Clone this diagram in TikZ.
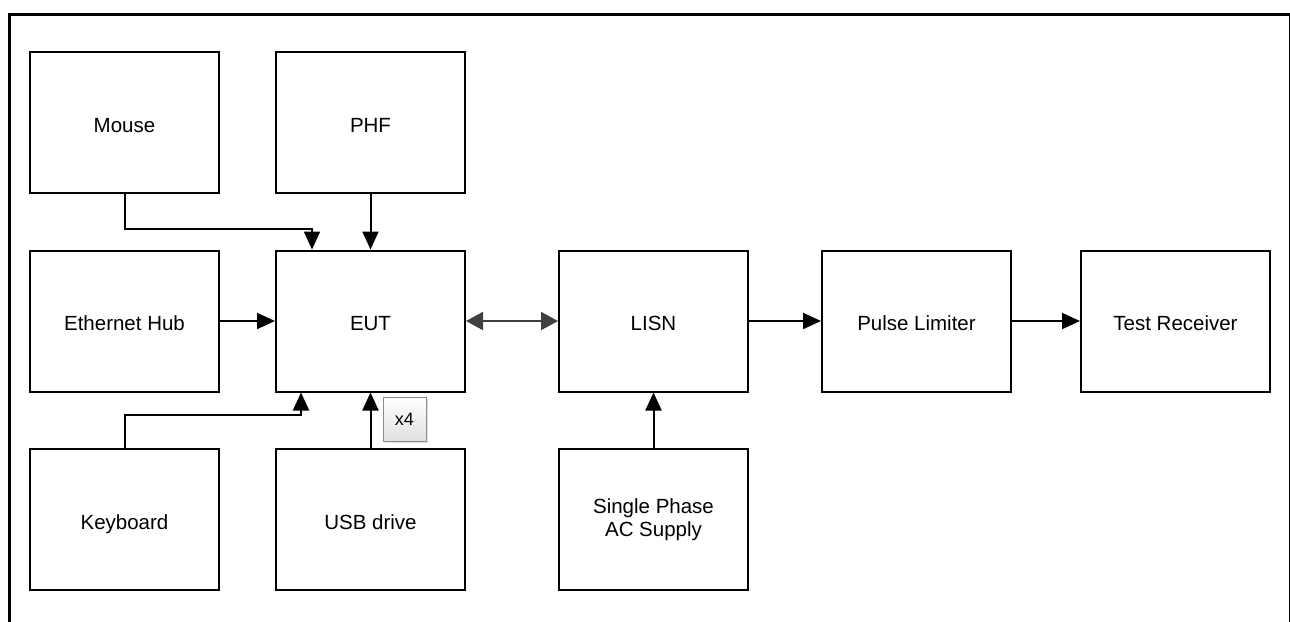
\documentclass[tikz,border=0pt]{standalone}
\usepackage{fontspec}
\setmainfont{Liberation Sans}
\usetikzlibrary{arrows.meta,shadows}

\begin{document}
\begin{tikzpicture}[x=1pt,y=-1pt,
	blk/.style={draw, line width=2pt, minimum width=189pt, minimum height=141pt, align=center, text height=19pt, text depth=0pt, font=\fontsize{20.5}{23.5}\selectfont},
	conn/.style={line width=2pt, -{Triangle[length=18pt,width=16pt]}},
	both/.style={line width=2pt, draw=black!75, {Triangle[length=17pt,width=18pt]}-{Triangle[length=17pt,width=18pt]}},
	tag/.style={draw=black!45, line width=0.8pt, top color=white, bottom color=black!12, minimum width=43pt, minimum height=44pt, font=\fontsize{18}{20}\selectfont, drop shadow={shadow xshift=2pt, shadow yshift=-2pt, fill=black!25}}]
	\useasboundingbox (0,0) rectangle (1290,621);
	% outer frame
	\draw[line width=3pt] (9,625) -- (9,14) -- (1290,14) -- (1290,625);

	% Top row
	\node[blk] (mouse) at (124.5,122.5) {Mouse};
	\node[blk] (phf) at (370.5,122.5) {PHF};

	% Middle row
	\node[blk] (hub) at (124.5,321) {Ethernet Hub};
	\node[blk] (eut) at (370.5,321) {EUT};
	\node[blk] (lisn) at (653.5,321) {LISN};
	\node[blk] (limiter) at (916.5,321) {Pulse Limiter};
	\node[blk] (receiver) at (1175.5,321) {Test Receiver};

	% Bottom row
	\node[blk] (keyboard) at (124.5,519.5) {Keyboard};
	\node[blk] (usb) at (370.5,519.5) {USB drive};
	\node[blk, text height=, text depth=] (supply) at (653.5,519.5) {Single Phase\\AC Supply};

	% Connections
	\draw[conn] (mouse.south) -- ++(0,35) -| ([xshift=-58.5pt]eut.north);
	\draw[conn] (phf) -- (eut);
	\draw[conn] (hub) -- (eut);
	\draw[conn] (keyboard.north) -- ++(0,-33) -| ([xshift=-69.5pt]eut.south);
	\draw[conn] (usb) -- (eut);
	\draw[both] (eut) -- (lisn);
	\draw[conn] (supply) -- (lisn);
	\draw[conn] (lisn) -- (limiter);
	\draw[conn] (limiter) -- (receiver);

	% USB count
	\node[tag] (count) at (404.5,419) {x4};
\end{tikzpicture}
\end{document}
